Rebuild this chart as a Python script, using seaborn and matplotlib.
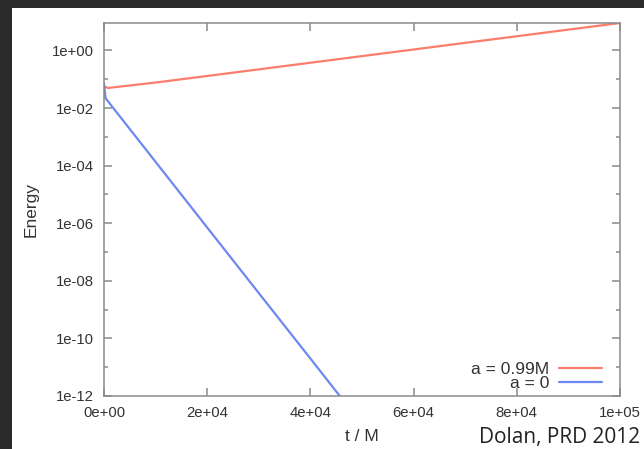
import numpy as np
import pandas as pd
import seaborn as sns
import matplotlib
matplotlib.use("Agg")
import matplotlib.pyplot as plt
from matplotlib.patches import Rectangle
from matplotlib.ticker import FixedLocator, FixedFormatter, NullFormatter

# Energy of the field versus time for two black hole spins
t_spin = [0, 800, 10000, 20000, 30000, 40000, 50000, 60000, 70000, 80000, 90000, 100000]
e_spin = [0.056, 0.050, 0.077, 0.130, 0.221, 0.375, 0.637, 1.08, 1.84, 3.12, 5.3, 9.0]

t_static = [0, 300, 10000, 20000, 30000, 40000, 46000, 50000]
e_static = [0.07, 0.022, 1.35e-4, 7.1e-7, 3.75e-9, 2.0e-11, 8.5e-13, 9.0e-14]

series_names = ["a = 0.99M", "a = 0"]
series_colors = ["#fb7d6c", "#6d88f2"]

x_ticks = [0, 20000, 40000, 60000, 80000, 100000]
x_tick_labels = ["0e+00", "2e+04", "4e+04", "6e+04", "8e+04", "1e+05"]
y_ticks = [1e-12, 1e-10, 1e-8, 1e-6, 1e-4, 1e-2, 1e0]
y_tick_labels = ["1e-12", "1e-10", "1e-08", "1e-06", "1e-04", "1e-02", "1e+00"]
y_minor = [1e-11, 1e-9, 1e-7, 1e-5, 1e-3, 1e-1]

df = pd.concat([
    pd.DataFrame({"t": t_spin, "E": e_spin, "spin": series_names[0]}),
    pd.DataFrame({"t": t_static, "E": e_static, "spin": series_names[1]}),
])

sns.set_style("white")
plt.rcParams["font.family"] = ["Liberation Sans", "DejaVu Sans"]

W, H = 644, 449
fig = plt.figure(figsize=(W / 100, H / 100), dpi=100, facecolor="#2a2a2a")
fig.patches.append(Rectangle((12 / W, 0), 1, (H - 8) / H, transform=fig.transFigure,
                             facecolor="white", edgecolor="none", zorder=-10))

ax = fig.add_axes([104 / W, 1 - 396 / H, (620 - 104) / W, (396 - 23) / H])
ax.set_facecolor("white")

sns.lineplot(data=df, x="t", y="E", hue="spin", hue_order=series_names,
             palette=series_colors, linewidth=1.6, ax=ax, estimator=None, sort=False)

ax.set_yscale("log")
ax.set_xlim(0, 100000)
ax.set_ylim(1e-12, 9.0)

ax.xaxis.set_major_locator(FixedLocator(x_ticks))
ax.xaxis.set_major_formatter(FixedFormatter(x_tick_labels))
ax.xaxis.set_minor_locator(FixedLocator([]))
ax.yaxis.set_major_locator(FixedLocator(y_ticks))
ax.yaxis.set_major_formatter(FixedFormatter(y_tick_labels))
ax.yaxis.set_minor_locator(FixedLocator(y_minor))
ax.yaxis.set_minor_formatter(NullFormatter())

spine_col = "#8a8a8a"
for s in ax.spines.values():
    s.set_color(spine_col)
    s.set_linewidth(1.1)
    s.set_visible(True)

ax.tick_params(which="both", direction="in", top=True, right=True, bottom=True, left=True,
               color=spine_col, width=1.1)
ax.tick_params(which="major", length=5.8, labelsize=10.7, labelcolor="#333333", pad=7.5)
ax.tick_params(which="minor", length=3.2)

ax.set_xlabel("t / M", fontsize=12.5, color="#333333")
ax.set_ylabel("Energy", fontsize=12.5, color="#333333")
ax.xaxis.set_label_coords(0.5, -0.088)
ax.yaxis.set_label_coords(-0.126, 0.5)

leg = ax.legend(markerfirst=False, loc="lower right", frameon=False,
                bbox_to_anchor=((602 - 104) / 516, (396 - 391) / 373),
                borderpad=0, borderaxespad=0, fontsize=12.5, handlelength=2.5,
                handletextpad=0.55, labelspacing=-0.05)
for txt in leg.get_texts():
    txt.set_color("#333333")
for line in leg.get_lines():
    line.set_linewidth(1.6)

fig.text(640 / W, 1 - 437 / H, "Dolan, PRD 2012", ha="right", va="center",
         fontsize=15, color="#222222", family=["Open Sans", "DejaVu Sans"])

fig.savefig("out.png", dpi=100, facecolor=fig.get_facecolor())
